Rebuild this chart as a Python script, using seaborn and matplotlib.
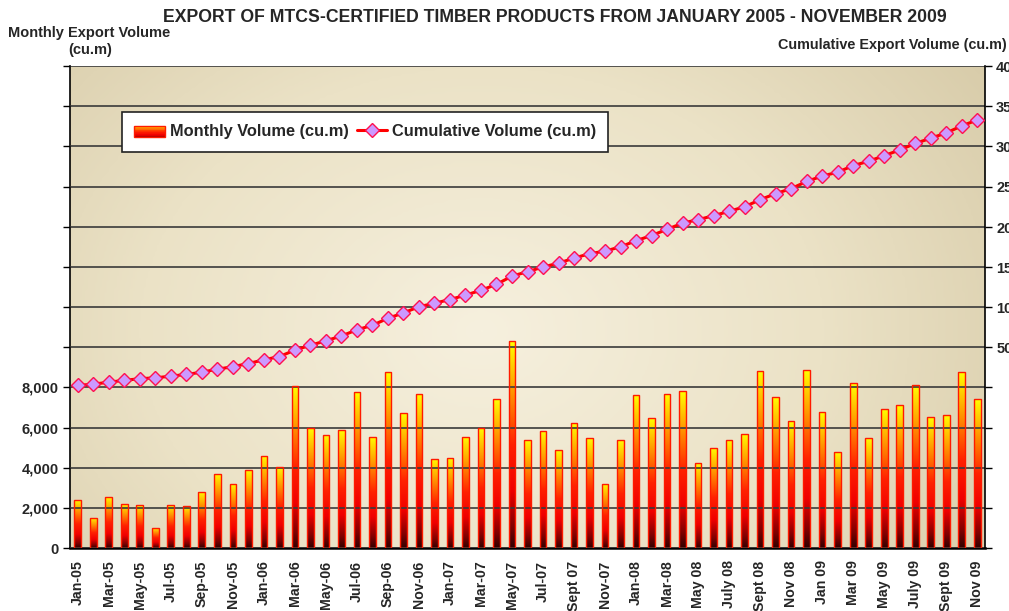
import numpy as np
import pandas as pd
import matplotlib
matplotlib.use('Agg')
import matplotlib.pyplot as plt
import seaborn as sns
from matplotlib.patches import Rectangle
from matplotlib.legend_handler import HandlerBase
from matplotlib.lines import Line2D
from matplotlib.colors import LinearSegmentedColormap
from matplotlib import font_manager as fm

months = ['Jan-05', 'Feb-05', 'Mar-05', 'Apr-05', 'May-05', 'Jun-05', 'Jul-05', 'Aug-05', 'Sep-05', 'Oct-05', 'Nov-05', 'Dec-05',
          'Jan-06', 'Feb-06', 'Mar-06', 'Apr-06', 'May-06', 'Jun-06', 'Jul-06', 'Aug-06', 'Sep-06', 'Oct-06', 'Nov-06', 'Dec-06',
          'Jan-07', 'Feb-07', 'Mar-07', 'Apr-07', 'May-07', 'Jun-07', 'Jul-07', 'Aug-07', 'Sept 07', 'Oct-07', 'Nov-07', 'Dec-07',
          'Jan-08', 'Feb-08', 'Mar-08', 'Apr-08', 'May 08', 'Jun 08', 'July 08', 'Aug 08', 'Sept 08', 'Oct 08', 'Nov 08', 'Dec 08',
          'Jan 09', 'Feb 09', 'Mar 09', 'Apr 09', 'May 09', 'Jun 09', 'July 09', 'Aug 09', 'Sept 09', 'Oct 09', 'Nov 09']

monthly = [2400, 1500, 2550, 2200, 2150, 1000, 2150, 2100, 2800, 3700, 3200, 3900,
           4600, 4050, 8050, 6000, 5650, 5900, 7750, 5550, 8750, 6700, 7650, 4450,
           4500, 5550, 6000, 7400, 10300, 5400, 5850, 4900, 6200, 5500, 3200, 5400,
           7600, 6450, 7650, 7800, 4250, 5000, 5400, 5700, 8800, 7500, 6300, 8850,
           6750, 4800, 8200, 5500, 6900, 7100, 8100, 6500, 6600, 8750, 7400]

# cumulative export = running total of the monthly volumes
cumulative = np.cumsum(monthly)

tick_labels = ['Jan-05', 'Mar-05', 'May-05', 'Jul-05', 'Sep-05', 'Nov-05',
               'Jan-06', 'Mar-06', 'May-06', 'Jul-06', 'Sep-06', 'Nov-06',
               'Jan-07', 'Mar-07', 'May-07', 'Jul-07', 'Sept 07', 'Nov-07',
               'Jan-08', 'Mar-08', 'May 08', 'July 08', 'Sept 08', 'Nov 08',
               'Jan 09', 'Mar 09', 'May 09', 'July 09', 'Sept 09', 'Nov 09']

left_ticks = list(range(0, 24001, 2000))
right_ticks = list(range(-200000, 400001, 50000))

sns.set_theme(style='white')
plt.rcParams['font.family'] = 'Liberation Sans'
plt.rcParams['font.weight'] = 'bold'

BOLD_PATH = fm.findfont(fm.FontProperties(family='Liberation Sans', weight='bold'))


def bf(size):
    return fm.FontProperties(fname=BOLD_PATH, size=size)


W, H = 1009, 611
fig = plt.figure(figsize=(W / 100, H / 100), dpi=100)
fig.patch.set_facecolor('white')
ax = fig.add_axes([70 / W, 1 - 548 / H, 915 / W, 482 / H])

df = pd.DataFrame({'month': months, 'monthly': monthly, 'idx': np.arange(len(months)), 'cum': cumulative})

sns.barplot(data=df, x='month', y='monthly', ax=ax, width=0.43, color='orange',
            edgecolor='#ff1a00', linewidth=1.0, zorder=3)

bar_cmap = LinearSegmentedColormap.from_list('bar', [(0.0, '#300000'), (0.1, '#800000'), (0.28, '#f00000'),
                                                     (0.5, '#ff2200'), (0.78, '#ffa000'), (1.0, '#ffff00')])
grad = np.linspace(0, 1, 256).reshape(-1, 1)
for p in ax.patches:
    x0, w, h = p.get_x(), p.get_width(), p.get_height()
    p.set_facecolor('none')
    im = ax.imshow(grad, extent=[x0, x0 + w, 0, h], origin='lower', aspect='auto', cmap=bar_cmap,
                   zorder=2.5, interpolation='bilinear')
    im.set_clip_path(p)

# background gradient
yy, xx = np.mgrid[0:1:200j, 0:1:400j]
d = np.sqrt(((xx - 0.45) / 0.75) ** 2 + ((yy - 0.45) / 1.1) ** 2)
bg_cmap = LinearSegmentedColormap.from_list('bg', ['#f6f0de', '#ebe2c6', '#d3c6a2'])
ax.imshow(np.clip(d, 0, 1), extent=[0, 1, 0, 1], transform=ax.transAxes, origin='lower', aspect='auto',
          cmap=bg_cmap, vmin=0, vmax=1, zorder=0.1, interpolation='bilinear')

ax.set_xlim(-0.5, len(months) - 0.5)
ax.set_ylim(0, 24000)
ax.set_yticks(left_ticks)
ax.set_yticklabels([f'{v:,}' if v <= 8000 else '' for v in left_ticks])
for t in ax.get_yticklabels():
    t.set_fontproperties(bf(10.5))
ax.yaxis.grid(True, color='#3a3a3a', linewidth=1.2, zorder=1)
ax.set_axisbelow(False)
for gl in ax.get_ygridlines():
    gl.set_zorder(1)
ax.set_xticks(np.arange(0, len(months), 2))
ax.set_xticklabels(tick_labels, rotation=90)
for t in ax.get_xticklabels():
    t.set_fontproperties(bf(10.2))
ax.set_xticks(np.arange(-0.5, len(months), 1), minor=True)
ax.tick_params(axis='x', which='major', length=0, pad=9)
ax.tick_params(axis='x', which='minor', length=5, width=1, color='black', direction='out')
ax.tick_params(axis='y', length=5, width=1, color='black', direction='out', left=True, pad=3)
ax.set_xlabel('')
ax.set_ylabel('')
for s in ['top', 'right']:
    ax.spines[s].set_visible(False)
ax.spines['left'].set_color('black')
ax.spines['left'].set_linewidth(1.2)
ax.spines['bottom'].set_color('black')
ax.spines['bottom'].set_linewidth(1.8)

ax2 = ax.twinx()
sns.lineplot(data=df, x='idx', y='cum', ax=ax2, color='#ff0000', linewidth=2.2, marker='D', markersize=7,
             markerfacecolor='#cc99ff', markeredgecolor='#ff1050', markeredgewidth=1.0, zorder=5)
ax2.set_ylim(-200000, 400000)
ax2.set_yticks(right_ticks)
ax2.set_yticklabels([f'{v:,}' if v >= 50000 else '' for v in right_ticks])
for t in ax2.get_yticklabels():
    t.set_fontproperties(bf(10.5))
ax2.tick_params(axis='y', length=5, width=1, color='black', direction='out', right=True, pad=3)
ax2.set_xlim(-0.5, len(months) - 0.5)
ax2.set_xlabel('')
ax2.set_ylabel('')
for s in ['top', 'left', 'bottom']:
    ax2.spines[s].set_visible(False)
ax2.spines['right'].set_color('black')
ax2.spines['right'].set_linewidth(1.2)


class GradientHandler(HandlerBase):
    def create_artists(self, legend, orig_handle, xdescent, ydescent, width, height, fontsize, trans):
        arts = []
        n = 16
        hh = height * 0.85
        y0 = -ydescent
        for i in range(n):
            r = Rectangle((-xdescent, y0 + hh * i / n), width, hh / n + 0.3,
                          facecolor=bar_cmap(0.15 + 0.7 * (i + 0.5) / n), edgecolor='none', transform=trans)
            arts.append(r)
        arts.append(Rectangle((-xdescent, y0), width, hh, facecolor='none',
                              edgecolor='#ff1a00', linewidth=1, transform=trans))
        return arts


bar_proxy = Rectangle((0, 0), 1, 1)
line_proxy = Line2D([], [], color='#ff0000', linewidth=2.2, marker='D', markersize=7,
                    markerfacecolor='#cc99ff', markeredgecolor='#ff1050')
leg = ax2.legend([bar_proxy, line_proxy], ['Monthly Volume (cu.m)', 'Cumulative Volume (cu.m)'],
                 handler_map={Rectangle: GradientHandler()}, loc='upper left',
                 bbox_to_anchor=(122 / W, 1 - 112 / H), bbox_transform=fig.transFigure, borderaxespad=0,
                 ncol=2, frameon=True, fancybox=False, edgecolor='#222222', facecolor='white', framealpha=1,
                 prop=bf(11.8), handlelength=1.85, handleheight=0.8,
                 columnspacing=0.5, handletextpad=0.3, borderpad=0.75)
leg.get_frame().set_linewidth(1.2)

fig.text(555 / W, 1 - 17 / H, 'EXPORT OF MTCS-CERTIFIED TIMBER PRODUCTS FROM JANUARY 2005 - NOVEMBER 2009',
         ha='center', va='center', fontproperties=bf(12.7))
fig.text(8 / W, 1 - 33 / H, 'Monthly Export Volume', ha='left', va='center', fontproperties=bf(10.5))
fig.text(90 / W, 1 - 50 / H, '(cu.m)', ha='center', va='center', fontproperties=bf(10.5))
fig.text(1007 / W, 1 - 45 / H, 'Cumulative Export Volume (cu.m)', ha='right', va='center',
         fontproperties=bf(10.4))

fig.savefig('out.png', dpi=100)
